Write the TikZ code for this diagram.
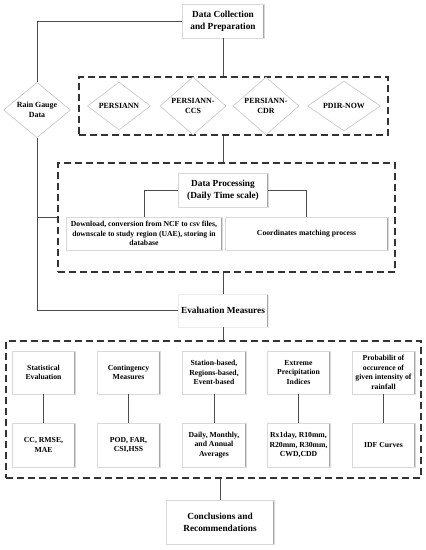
\documentclass[tikz,border=0pt]{standalone}
\usepackage{fontspec}
\setmainfont{Liberation Serif}
\usetikzlibrary{shapes.geometric}
\begin{document}
\begin{tikzpicture}[x=1pt,y=-1pt,
 box/.style={draw=gray!30, line width=0.6pt, fill=white, align=center, inner sep=1pt,
   font=\bfseries\fontsize{7.7}{9.6}\selectfont,
   path picture={\draw[gray!70,line width=1.4pt] (path picture bounding box.north east) -- (path picture bounding box.south east);}},
 title/.style={box, font=\bfseries\fontsize{9.3}{11.7}\selectfont},
 dia/.style={diamond, draw=gray!45, line width=0.6pt, fill=white, inner sep=0pt, align=center,
   font=\bfseries\fontsize{7.9}{9.6}\selectfont},
 conn/.style={draw=gray!60!black, line width=0.8pt},
 dbox/.style={draw=black!80, line width=1.3pt, dash pattern=on 7pt off 4pt, inner sep=0pt}]
\useasboundingbox[fill=white] (0,0) rectangle (426,550);

% group frames
\node[dbox, minimum width=309pt, minimum height=58pt] (g1) at (233.5,106) {};
\node[dbox, minimum width=337pt, minimum height=109pt] (g2) at (226.5,217.5) {};
\node[dbox, minimum width=415pt, minimum height=137pt] (g3) at (213.5,409.5) {};

% top
\node[title, minimum width=82pt, minimum height=34pt] (dc) at (223,21) {Data Collection\\and Preparation};
\node[dia, minimum width=67pt, minimum height=45pt] (rg) at (37,110) {Rain Gauge\\Data};

\node[dia, minimum width=63pt, minimum height=48pt] (p1) at (119,106) {PERSIANN};
\node[dia, minimum width=66pt, minimum height=50pt] (p2) at (193,106) {PERSIANN-\\CCS};
\node[dia, minimum width=66pt, minimum height=50pt] (p3) at (266,106) {PERSIANN-\\CDR};
\node[dia, minimum width=73pt, minimum height=50pt] (p4) at (344,106) {PDIR-NOW};

% processing
\node[title, minimum width=90pt, minimum height=34pt] (dp) at (223,190) {Data Processing\\(Daily Time scale)};
\node[box, minimum width=156pt, minimum height=33pt] (dl) at (144,233.5) {Download, conversion from NCF to csv files,\\downscale to study region (UAE), storing in\\database};
\node[box, minimum width=163pt, minimum height=33pt] (dr) at (306.5,233.5) {Coordinates matching process};

% evaluation
\node[title, draw=gray!15, minimum width=90pt, minimum height=33pt] (em) at (223,310.5) {Evaluation Measures};

\node[box, minimum width=63pt, minimum height=43pt] (t1) at (43.5,372.5) {Statistical\\Evaluation};
\node[box, minimum width=63pt, minimum height=43pt] (t2) at (128.5,372.5) {Contingency\\Measures};
\node[box, minimum width=64pt, minimum height=43pt] (t3) at (214,372.5) {Station-based,\\Regions-based,\\Event-based};
\node[box, minimum width=63pt, minimum height=43pt] (t4) at (298.5,372.5) {Extreme\\Precipitation\\Indices};
\node[box, minimum width=63pt, minimum height=43pt] (t5) at (383.5,372.5) {Probabilit of\\occurence of\\given intensity of\\rainfall};

\node[box, minimum width=63pt, minimum height=44pt] (b1) at (43.5,445) {CC, RMSE,\\MAE};
\node[box, minimum width=63pt, minimum height=44pt] (b2) at (128.5,445) {POD, FAR,\\CSI,HSS};
\node[box, minimum width=64pt, minimum height=44pt] (b3) at (214,445) {Daily, Monthly,\\and Annual\\Averages};
\node[box, minimum width=63pt, minimum height=44pt] (b4) at (298.5,445) {Rx1day, R10mm,\\R20mm, R30mm,\\CWD,CDD};
\node[box, minimum width=63pt, minimum height=44pt] (b5) at (383.5,445) {IDF Curves};

\node[title, minimum width=108pt, minimum height=44pt] (cr) at (220,522) {Conclusions and\\Recommendations};

% connectors
\draw[conn] (dc.west) -| (rg.north);
\draw[conn] (dc.south) -- (dc.south |- g1.north);
\draw[conn] (dc.south |- g1.south) -- (dc.south |- g2.north);
\draw[conn] (rg.south) -- (rg.south |- em.west) -- (em.west);
\draw[conn] (g2.west -| rg.south) -- (g2.west);
\draw[conn] (dp.west) -| (dl.north);
\draw[conn] (dp.east) -| (dr.north);
\draw[conn] (em.north |- g2.south) -- (em.north);
\draw[conn] (em.south) -- (em.south |- g3.north);
\foreach \i in {1,...,5} {\draw[conn] (t\i.south) -- (b\i.north);}
\draw[conn] (cr.north |- g3.south) -- (cr.north);
\end{tikzpicture}
\end{document}
